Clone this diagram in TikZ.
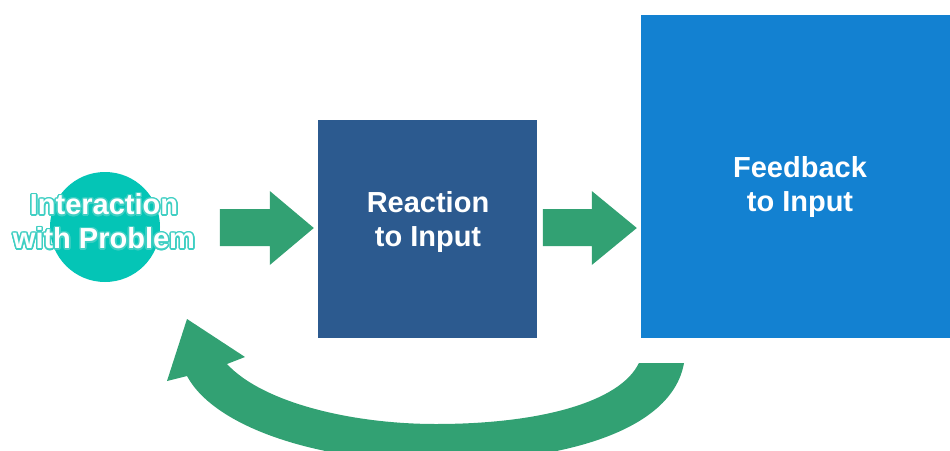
\documentclass[tikz,border=0pt]{standalone}
\usepackage{fontspec}
\setmainfont{Liberation Sans}
\usepackage[copies]{contour}
\usetikzlibrary{calc}

\definecolor{teal1}{HTML}{04C5B6}
\definecolor{tealedge}{HTML}{3FCFC3}
\definecolor{navy1}{HTML}{2C5A8F}
\definecolor{blue1}{HTML}{1381D1}
\definecolor{green1}{HTML}{32A173}

\tikzset{
  boxtext/.style={text=white, font=\bfseries\fontsize{29}{34}\selectfont, align=center, inner sep=0pt},
  flowarrow/.style={fill=green1, draw=none},
}

\begin{document}
\begin{tikzpicture}[x=1pt, y=-1pt]
  \useasboundingbox (0,0) rectangle (950,450);
  \clip (0,0) rectangle (950,450);

  % stages
  \node[circle, fill=teal1, minimum size=110pt, inner sep=0pt] (c) at (105,227) {};
  \node[rectangle, fill=navy1, minimum width=219pt, minimum height=218pt, inner sep=0pt] (r) at (427.5,229) {};
  \node[rectangle, fill=blue1, minimum width=320pt, minimum height=323pt, inner sep=0pt] (f) at (801,176.5) {};

  % labels (white letters with a thin teal outline on the circle)
  \contourlength{1.5pt}
  \node[boxtext] (ct) at (104,222) {\contour{tealedge}{Interaction}\\\contour{tealedge}{with Problem}};
  \node[boxtext] (rt) at (428,222) {Reaction\\to Input};
  \node[boxtext] (ft) at (800,187) {Feedback\\to Input};

  % block arrows between stages
  \coordinate (a1) at ($(r.west)+(-4,-1)$);
  \fill[flowarrow] (a1) -- ++(-44,-37) -- ++(0,18) -- ++(-50,0) -- ++(0,37) -- ++(50,0) -- ++(0,19) -- cycle;
  \coordinate (a2) at ($(f.west)+(-4,51.5)$);
  \fill[flowarrow] (a2) -- ++(-45,-37) -- ++(0,18) -- ++(-49,0) -- ++(0,37) -- ++(49,0) -- ++(0,19) -- cycle;

  % feedback loop arrow back to the start
  \coordinate (lstart) at ($(f.south west)+(-2,25)$);
  \fill[flowarrow]
    (lstart) -- (684,363)
    .. controls (672,432) and (560,462) .. (438,462)
    .. controls (320,462) and (215,428) .. (187,376)
    -- (167,381) -- (187,319) -- (245,357) -- (227,364)
    .. controls (262,402) and (350,424) .. (436,424)
    .. controls (540,424) and (620,402) .. (lstart) -- cycle;
\end{tikzpicture}
\end{document}
